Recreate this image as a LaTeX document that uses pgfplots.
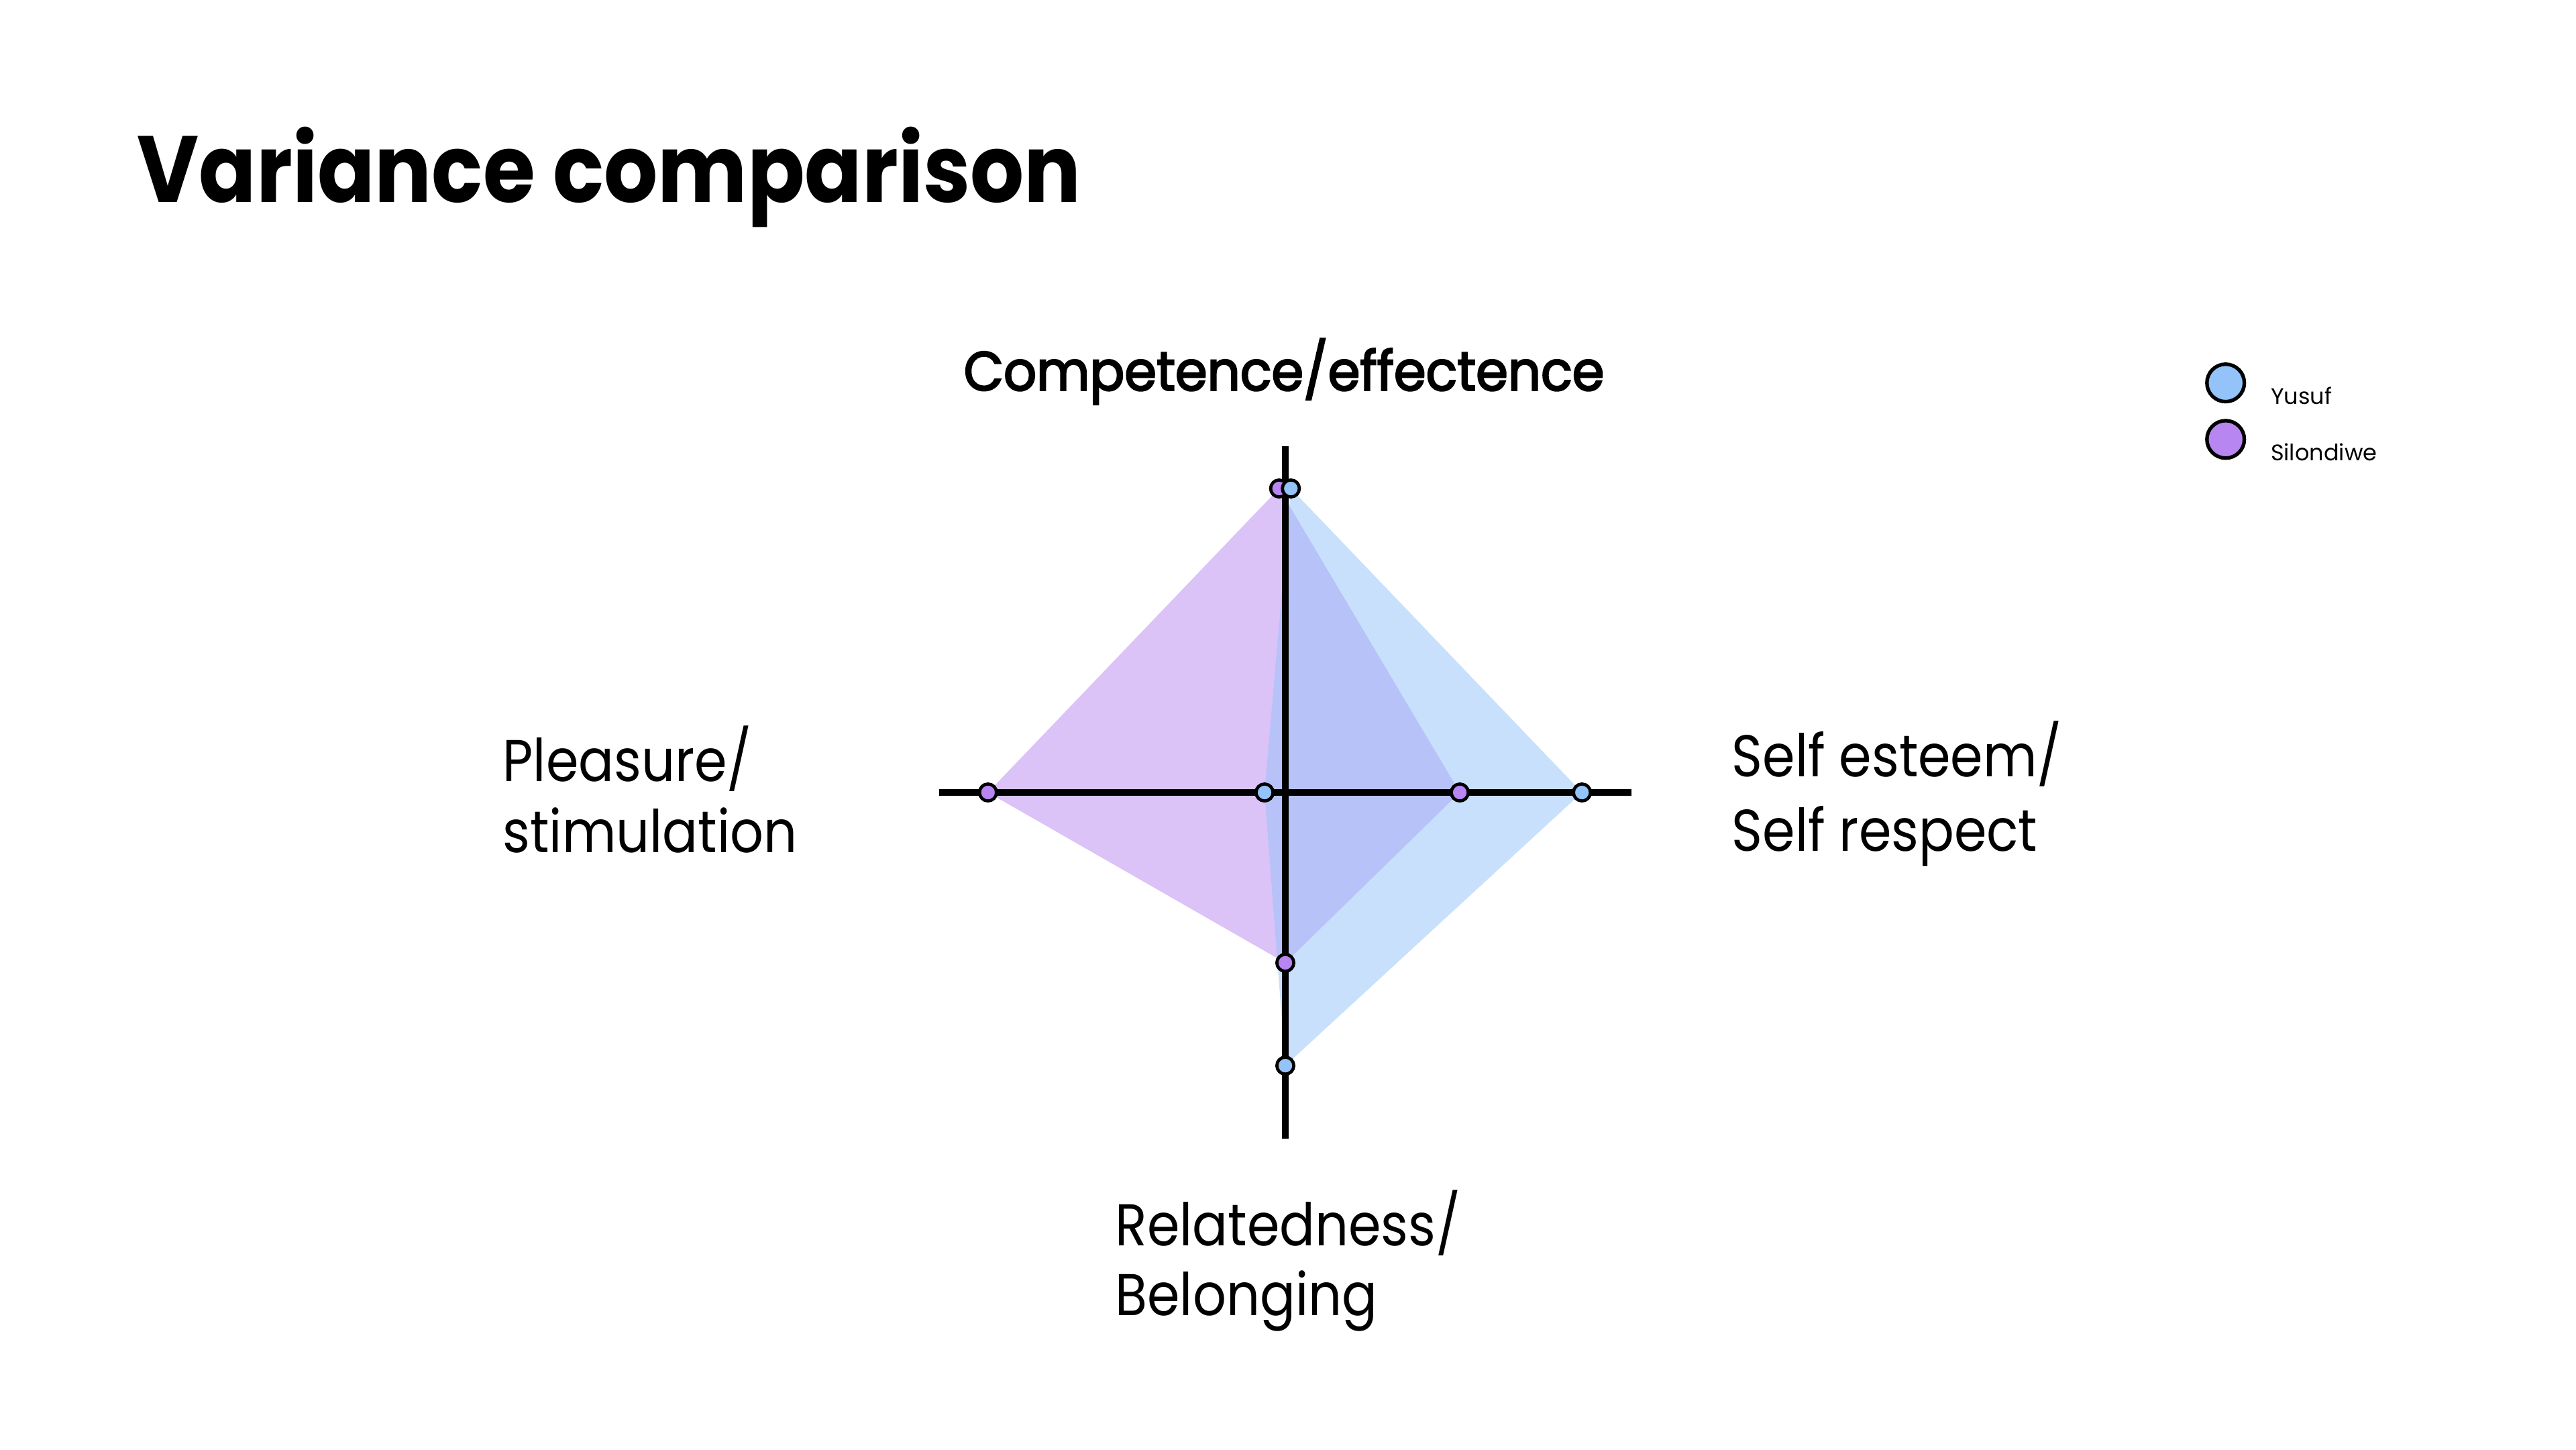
\documentclass[border=0pt]{standalone}
\usepackage{fontspec}
\setmainfont{Poppins}
\newfontfamily\medfont{Poppins}[FakeBold=3]
\usepackage{graphicx}
\usepackage{pgfplots}
\pgfplotsset{compat=1.18}
\definecolor{blueM}{RGB}{147,195,249}
\definecolor{purpM}{RGB}{184,134,240}
\newcommand{\sq}[1]{\scalebox{0.89}[1]{#1}}
\begin{document}
\begin{tikzpicture}
\fill[white] (0,0) rectangle (15.68,-8.82);
\node[anchor=base west, inner sep=0pt, font=\fontsize{16.3}{19}\selectfont\bfseries] at (0.829,-1.232) {\scalebox{0.898}[1]{Variance comparison}};
\node[anchor=base, inner sep=0pt, font=\fontsize{9.5}{12}\selectfont\medfont] at (7.8155,-2.3753) {\scalebox{0.94}[1]{Competence/effectence}};
\node[anchor=base west, inner sep=0pt, font=\fontsize{10.2}{12.6}\selectfont] at (10.535,-4.7264) {\sq{Self esteem/}};
\node[anchor=base west, inner sep=0pt, font=\fontsize{10.2}{12.6}\selectfont] at (10.535,-5.1776) {\sq{Self respect}};
\node[anchor=base west, inner sep=0pt, font=\fontsize{10.2}{12.6}\selectfont] at (3.054,-4.753) {\sq{Pleasure/}};
\node[anchor=base west, inner sep=0pt, font=\fontsize{10.2}{12.6}\selectfont] at (3.054,-5.186) {\sq{stimulation}};
\node[anchor=base west, inner sep=0pt, font=\fontsize{10.2}{12.6}\selectfont] at (6.782,-7.5786) {\sq{Relatedness/}};
\node[anchor=base west, inner sep=0pt, font=\fontsize{10.2}{12.6}\selectfont] at (6.782,-8.0033) {\sq{Belonging}};
\begin{axis}[
  at={(7.8236cm,-4.8224cm)}, anchor=center,
  width=4.214cm, height=4.214cm, scale only axis,
  xmin=-1, xmax=1, ymin=-1, ymax=1,
  axis lines=none, clip=false,
  legend style={draw=none, fill=none, inner sep=0pt, outer sep=0pt,
    at={(1.8286,1.1211)}, anchor=north west,
    font=\fontsize{3.9}{4.7}\selectfont,
    nodes={inner sep=0pt, outer sep=0pt},
    /tikz/column sep=0.15cm, /tikz/row sep=0.0375cm},
  legend cell align=left,
]
% filled areas
\addplot[forget plot, draw=none, fill=purpM, fill opacity=0.5]
  coordinates {(-0.018,0.878) (0.504,0) (0,-0.492) (-0.859,0)} -- cycle;
\addplot[forget plot, draw=none, fill=blueM, fill opacity=0.5]
  coordinates {(0.016,0.878) (0.857,0) (0,-0.789) (-0.060,0)} -- cycle;
% cross axes
\addplot[forget plot, black, line width=1.16pt] coordinates {(-1,0) (1,0)};
\addplot[forget plot, black, line width=1.16pt] coordinates {(0,-1) (0,1)};
% markers
\addplot[forget plot, only marks, mark=*, mark size=1.47pt,
  mark options={fill=purpM, draw=black, line width=0.545pt}]
  coordinates {(-0.018,0.878) (0.504,0) (0,-0.492) (-0.859,0)};
\addplot[forget plot, only marks, mark=*, mark size=1.47pt,
  mark options={fill=blueM, draw=black, line width=0.545pt}]
  coordinates {(0.016,0.878) (0.857,0) (0,-0.789) (-0.060,0)};
% legend
\addlegendimage{legend image code/.code={\draw[fill=blueM, draw=black, line width=0.62pt] (0.114cm,0.1025cm) circle (0.114cm);}}
\addlegendentry{Yusuf}
\addlegendimage{legend image code/.code={\draw[fill=purpM, draw=black, line width=0.62pt] (0.114cm,0.1025cm) circle (0.114cm);}}
\addlegendentry{Silondiwe}
\end{axis}
\end{tikzpicture}
\end{document}
